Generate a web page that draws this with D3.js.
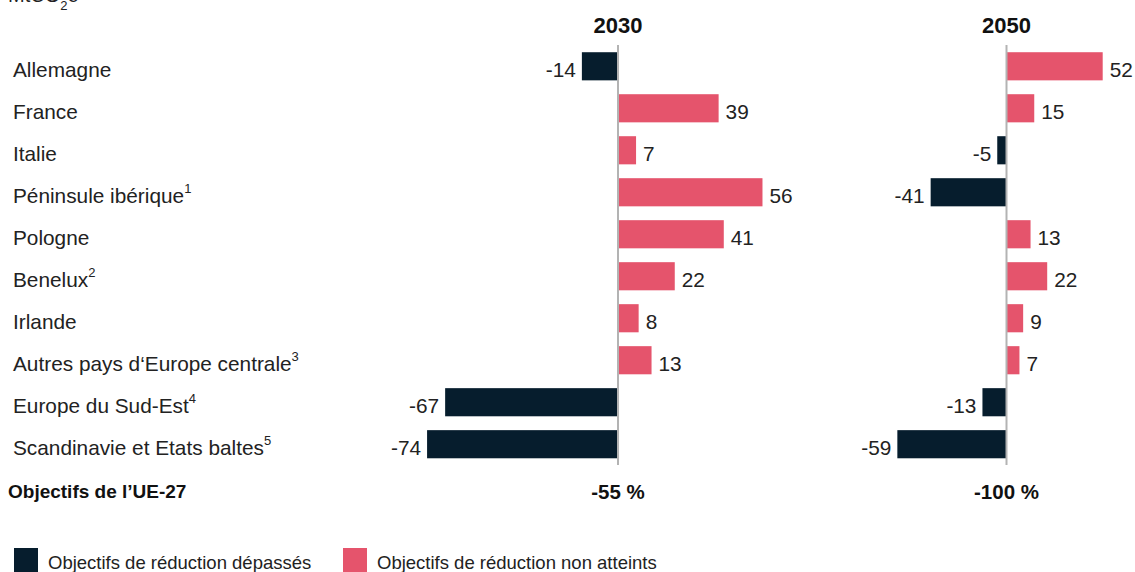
<!DOCTYPE html>
<html lang="fr">
<head>
<meta charset="utf-8">
<script src="https://cdn.jsdelivr.net/npm/d3@7"></script>
<style>
  html, body { margin: 0; padding: 0; background: #fff; }
  svg { display: block; font-family: "Liberation Sans", Arial, sans-serif; }
</style>
</head>
<body>
<svg id="chart" width="1135" height="572"></svg>
<script>
// Écarts par rapport aux objectifs de réduction, MtCO2e
const regions = [
  "Allemagne", "France", "Italie", "Péninsule ibérique", "Pologne", "Benelux",
  "Irlande", "Autres pays d‘Europe centrale", "Europe du Sud-Est", "Scandinavie et Etats baltes"
];
const notes = ["", "", "", "1", "", "2", "", "3", "4", "5"];
const years = ["2030", "2050"];
const values2030 = [-14, 39, 7, 56, 41, 22, 8, 13, -67, -74];
const values2050 = [52, 15, -5, -41, 13, 22, 9, 7, -13, -59];
const targets = ["-55 %", "-100 %"];
const legendLabels = ["Objectifs de réduction dépassés", "Objectifs de réduction non atteints"];

const colorOver = "#061d2d";
const colorUnder = "#e5546c";
const textColor = "#222";

const svg = d3.select("#chart");

// Row positions
const y = d3.scaleBand()
  .domain(regions)
  .range([45.5, 465])
  .paddingInner(0.33)
  .paddingOuter(0.16);

// Each year gets its own horizontal scale centred on its zero line
const panels = [
  { year: years[0], data: values2030, target: targets[0],
    x: d3.scaleLinear().domain([-100, 100]).range([618 - 258, 618 + 258]) },
  { year: years[1], data: values2050, target: targets[1],
    x: d3.scaleLinear().domain([-100, 100]).range([1006.5 - 185, 1006.5 + 185]) }
];

// Unit label (mostly above the top edge)
const unit = svg.append("text")
  .attr("x", 8).attr("y", 2)
  .attr("fill", textColor)
  .style("font-size", "20px");
unit.append("tspan").text("MtCO");
unit.append("tspan").attr("baseline-shift", "sub").style("font-size", "13px").text("2");
unit.append("tspan").text("e");

// Region labels
const labels = svg.append("g").selectAll("text")
  .data(regions)
  .join("text")
  .attr("x", 13)
  .attr("y", d => y(d) + y.bandwidth() / 2 + 3)
  .attr("dominant-baseline", "central")
  .attr("fill", textColor)
  .style("font-size", "20.8px");
labels.append("tspan").text(d => d);
labels.append("tspan")
  .attr("dy", -7)
  .style("font-size", "13px")
  .text((d, i) => notes[i]);

panels.forEach(p => {
  const g = svg.append("g");
  const x0 = p.x(0);

  g.append("text")
    .attr("x", x0).attr("y", 25)
    .attr("text-anchor", "middle")
    .attr("dominant-baseline", "central")
    .attr("fill", "#111")
    .style("font-size", "22px")
    .style("font-weight", "bold")
    .text(p.year);

  g.selectAll("rect")
    .data(p.data)
    .join("rect")
    .attr("x", d => Math.min(p.x(d), x0))
    .attr("y", (d, i) => y(regions[i]))
    .attr("width", d => Math.abs(p.x(d) - x0))
    .attr("height", y.bandwidth())
    .attr("fill", d => d < 0 ? colorOver : colorUnder);

  g.append("line")
    .attr("x1", x0).attr("x2", x0)
    .attr("y1", 45).attr("y2", 465)
    .attr("stroke", "#b3b3b3")
    .attr("stroke-width", 2);

  g.selectAll("text.val")
    .data(p.data)
    .join("text")
    .attr("class", "val")
    .attr("x", d => d < 0 ? p.x(d) - 6 : p.x(d) + 7)
    .attr("y", (d, i) => y(regions[i]) + y.bandwidth() / 2 + 3)
    .attr("text-anchor", d => d < 0 ? "end" : "start")
    .attr("dominant-baseline", "central")
    .attr("fill", textColor)
    .style("font-size", "20.8px")
    .text(d => d);

  g.append("text")
    .attr("x", x0).attr("y", 491)
    .attr("text-anchor", "middle")
    .attr("dominant-baseline", "central")
    .attr("fill", "#111")
    .style("font-size", "20.5px")
    .style("font-weight", "bold")
    .text(p.target);
});

svg.append("text")
  .attr("x", 8).attr("y", 491)
  .attr("dominant-baseline", "central")
  .attr("fill", "#111")
  .style("font-size", "19px")
  .style("font-weight", "bold")
  .text("Objectifs de l’UE-27");

// Legend
const legend = svg.append("g").selectAll("g")
  .data(legendLabels)
  .join("g")
  .attr("transform", (d, i) => `translate(${[14, 343][i]},548)`);
legend.append("rect")
  .attr("width", 24).attr("height", 24)
  .attr("fill", (d, i) => i === 0 ? colorOver : colorUnder);
legend.append("text")
  .attr("x", 34).attr("y", 14)
  .attr("dominant-baseline", "central")
  .attr("fill", textColor)
  .style("font-size", "18.5px")
  .text(d => d);
</script>
</body>
</html>
